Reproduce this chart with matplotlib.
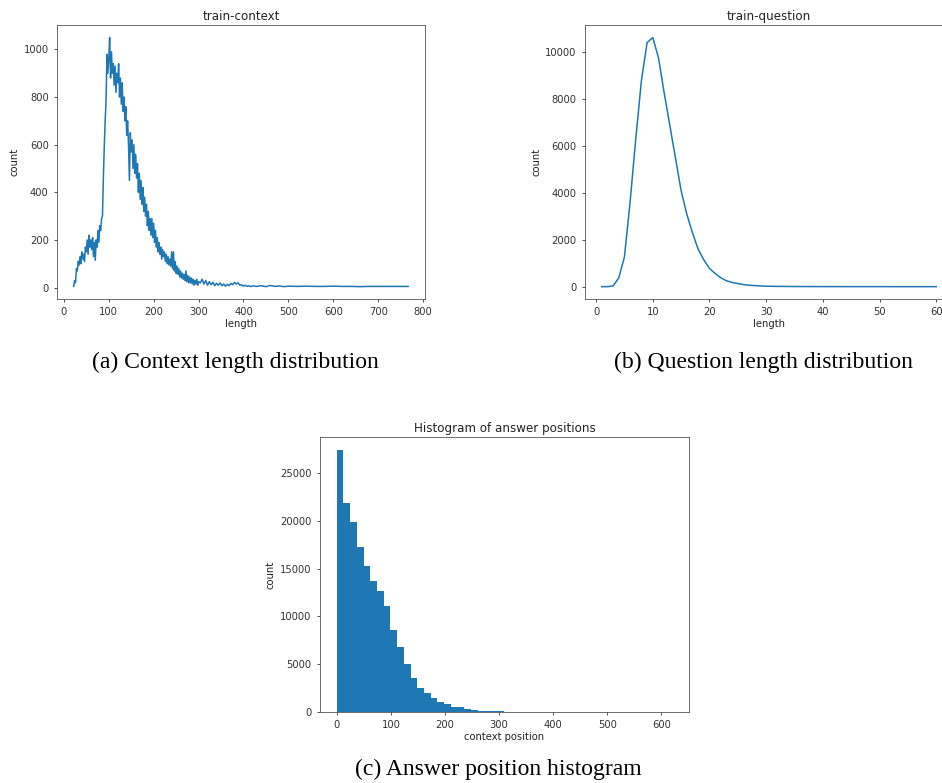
import numpy as np
import matplotlib
matplotlib.use("Agg")
import matplotlib.pyplot as plt

# context length counts
ctx_len = np.concatenate([np.arange(22, 301, 2), np.arange(304, 421, 4),
                          np.arange(430, 501, 10), np.arange(520, 761, 20), [767]])
ctx_count = [
    5, 30, 20, 80, 70, 110, 95, 130, 100, 150,
    120, 140, 110, 170, 150, 200, 140, 220, 170, 200,
    160, 210, 130, 190, 115, 200, 170, 240, 190, 260,
    240, 290, 300, 460, 590, 700, 785, 980, 900, 960,
    1050, 880, 990, 900, 940, 850, 930, 820, 900, 860,
    940, 800, 880, 770, 860, 740, 800, 700, 760, 640,
    700, 600, 450, 650, 570, 620, 500, 600, 480, 560,
    460, 520, 400, 480, 370, 450, 350, 420, 320, 380,
    300, 350, 260, 320, 240, 290, 220, 290, 210, 270,
    190, 240, 170, 210, 150, 190, 140, 170, 120, 160,
    130, 150, 110, 140, 100, 130, 95, 120, 90, 150,
    80, 150, 70, 110, 60, 90, 55, 80, 45, 70,
    40, 60, 35, 55, 30, 70, 25, 50, 20, 45,
    20, 40, 15, 35, 10, 30, 15, 35, 10, 25,
    20, 35, 15, 30, 10, 25, 12, 22, 8, 18,
    10, 20, 8, 15, 6, 14, 8, 18, 12, 22,
    15, 20, 10, 12, 6, 10, 5, 8, 4, 7,
    5, 8, 4, 9, 5, 7, 4, 6,
    5, 6, 5, 5, 6, 5, 5, 4, 5, 5, 5, 5, 5,
    5,
]

# question length counts
q_len = np.arange(1, 61)
q_count = [0, 0, 30, 370, 1260, 3600, 6300, 8800, 10420, 10640,
           9790, 8300, 6900, 5500, 4100, 3100, 2300, 1600, 1150, 780,
           560, 380, 250, 180, 130, 90, 60, 45, 30, 20,
           15, 12, 10, 8, 6, 5, 4, 4, 3, 3,
           2, 2, 2, 1, 1, 1, 1, 1, 1, 1,
           1, 1, 0, 0, 0, 0, 0, 0, 0, 0]

# answer position histogram (50 bins)
pos_edges = np.linspace(0, 620, 51)
pos_count = [27400, 21900, 19850, 17270, 15320, 13680, 12670, 11140, 8630, 6790,
             5050, 3590, 2500, 1950, 1430, 1000, 800, 520, 490, 350,
             240, 140, 100, 80, 70, 40, 30, 20, 15, 10,
             8, 6, 5, 4, 3, 3, 2, 2, 1, 1,
             1, 1, 1, 1, 1, 1, 1, 1, 1, 1]

plt.rcParams.update({
    "font.size": 7.2,
    "axes.titlesize": 8.6,
    "axes.labelsize": 7.2,
    "axes.linewidth": 0.6,
    "axes.edgecolor": "#555555",
    "xtick.major.size": 2.5,
    "ytick.major.size": 2.5,
    "xtick.major.width": 0.6,
    "ytick.major.width": 0.6,
    "xtick.color": "#333333",
    "ytick.color": "#333333",
    "text.color": "#222222",
    "axes.labelcolor": "#222222",
})

fig = plt.figure(figsize=(9.42, 7.83), dpi=100)

ax1 = fig.add_axes([0.0605, 0.618, 0.3907, 0.350])
ax1.plot(ctx_len, ctx_count, color="#1f77b4", lw=1.1)
ax1.set_title("train-context", pad=4)
ax1.set_xlabel("length", labelpad=1)
ax1.set_ylabel("count", labelpad=3)
ax1.set_xticks(range(0, 801, 100))

ax2 = fig.add_axes([0.621, 0.618, 0.3907, 0.350])
ax2.plot(q_len, q_count, color="#1f77b4", lw=1.1)
ax2.set_title("train-question", pad=4)
ax2.set_xlabel("length", labelpad=1)
ax2.set_ylabel("count", labelpad=3)
ax2.set_xticks(range(0, 61, 10))

ax3 = fig.add_axes([0.3397, 0.0907, 0.3917, 0.351])
ax3.hist(pos_edges[:-1], bins=pos_edges, weights=pos_count, color="#1f77b4")
ax3.set_title("Histogram of answer positions", pad=4)
ax3.set_xlabel("context position", labelpad=1)
ax3.set_ylabel("count", labelpad=3)
ax3.set_xticks(range(0, 601, 100))

cap = dict(family=["Liberation Serif", "DejaVu Serif"], fontsize=17, color="black",
           ha="center", va="center")
fig.text(235 / 942, 1 - 362 / 783, "(a) Context length distribution", **cap)
fig.text(763 / 942, 1 - 362 / 783, "(b) Question length distribution", **cap)
fig.text(498 / 942, 1 - 769 / 783, "(c) Answer position histogram", **cap)

fig.savefig("out.png", dpi=100)
